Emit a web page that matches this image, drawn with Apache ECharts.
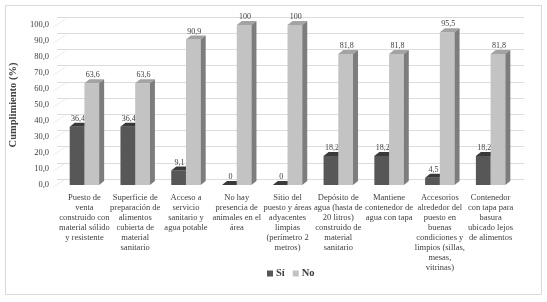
<!DOCTYPE html>
<html>
<head>
<meta charset="utf-8">
<script src="https://cdn.jsdelivr.net/npm/echarts@6/dist/echarts.min.js"></script>
<style>
  html, body { margin: 0; padding: 0; background: #fff; }
  #chart { width: 547px; height: 302px; }
</style>
</head>
<body>
<div id="chart"></div>
<script>
var categories = [
    'Puesto de\nventa\nconstruido con\nmaterial sólido\ny resistente',
    'Superficie de\npreparación de\nalimentos\ncubierta de\nmaterial\nsanitario',
    'Acceso a\nservicio\nsanitario y\nagua potable',
    'No hay\npresencia de\nanimales en el\nárea',
    'Sitio del\npuesto y áreas\nadyacentes\nlimpias\n(perímetro 2\nmetros)',
    'Depósito de\nagua (hasta de\n20 litros)\nconstruido de\nmaterial\nsanitario',
    'Mantiene\ncontenedor de\nagua con tapa',
    'Accesorios\nalrededor del\npuesto en\nbuenas\ncondiciones y\nlimpios (sillas,\nmesas,\nvitrinas)',
    'Contenedor\ncon tapa para\nbasura\nubicado lejos\nde alimentos'
];
var si_values = [36.4, 36.4, 9.1, 0, 0, 18.2, 18.2, 4.5, 18.2];
var no_values = [63.6, 63.6, 90.9, 100, 100, 81.8, 81.8, 95.5, 81.8];
var y_ticks = [0, 10, 20, 30, 40, 50, 60, 70, 80, 90, 100];
var series_names = ['Sí', 'No'];

var FONT = 'Liberation Serif';

function fmt(v) {
    return Number.isInteger(v) ? String(v) : v.toFixed(1).replace('.', ',');
}

// colours: front, top, side
var shades = {
    'Sí': ['#575757', '#3a3a3a', '#2e2e2e'],
    'No': ['#c3c3c3', '#a3a3a3', '#7d7d7d']
};

function make_render(name, offsetSide) {
    var c = shades[name];
    return function (params, api) {
        var idx = api.value(0);
        var val = api.value(1);
        var top = api.coord([idx, val]);
        var base = api.coord([idx, 0]);
        var band = api.size([1, 0])[0];
        var w = band * 0.29;
        var x0 = top[0] + (offsetSide < 0 ? -w : 0);
        var x1 = x0 + w;
        var dx = 5, dy = 4;
        return {
            type: 'group',
            children: [
                {
                    type: 'rect',
                    shape: { x: x0, y: top[1], width: w, height: base[1] - top[1] },
                    style: { fill: c[0] }
                },
                {
                    type: 'polygon',
                    shape: { points: [[x0, top[1]], [x0 + dx, top[1] - dy], [x1 + dx, top[1] - dy], [x1, top[1]]] },
                    style: { fill: c[1] }
                },
                {
                    type: 'polygon',
                    shape: { points: [[x1, top[1]], [x1 + dx, top[1] - dy], [x1 + dx, base[1] - dy], [x1, base[1]]] },
                    style: { fill: c[2] }
                },
                {
                    type: 'text',
                    style: {
                        x: x0 + w / 2 + 1, y: top[1] - dy,
                        text: fmt(val),
                        fill: '#404040',
                        fontFamily: FONT,
                        fontSize: 8,
                        align: 'center', verticalAlign: 'bottom'
                    }
                }
            ]
        };
    };
}

// faint side-wall lines joining the tick labels to the back wall
function render_wall(params, api) {
    var p = api.coord([0, api.value(0)]);
    var left = p[0] - api.size([1, 0])[0] / 2;
    return {
        type: 'line',
        shape: { x1: left - 6, y1: p[1] + 2, x2: left + 7, y2: p[1] - 6 },
        style: { stroke: '#dedede', lineWidth: 1, lineDash: [1, 1] }
    };
}

var chart = echarts.init(document.getElementById('chart'));

chart.setOption({
    animation: false,
    backgroundColor: '#fff',
    textStyle: { fontFamily: FONT },
    graphic: [
        {
            type: 'rect',
            shape: { x: 5.5, y: 5.5, width: 536, height: 289 },
            style: { fill: 'none', stroke: '#d9d9d9', lineWidth: 1 },
            z: -10
        }
    ],
    legend: {
        data: series_names,
        left: 262,
        top: 263,
        itemWidth: 6,
        itemHeight: 6,
        itemGap: 8,
        icon: 'rect',
        textStyle: { fontFamily: FONT, fontSize: 10.5, fontWeight: 'bold', color: '#404040', padding: [0, 0, 0, -2] }
    },
    grid: [
        { left: 50, right: 31, top: 25, bottom: 117 },
        { left: 57, right: 23, top: 17, bottom: 123 }
    ],
    xAxis: [
        {
            type: 'category',
            gridIndex: 0,
            data: categories,
            axisLine: { show: false },
            axisTick: { show: false },
            axisLabel: {
                interval: 0,
                margin: 8,
                fontFamily: FONT,
                fontSize: 8.5,
                lineHeight: 10,
                color: '#404040',
                verticalAlign: 'top'
            }
        },
        {
            type: 'category',
            gridIndex: 1,
            data: categories,
            show: false
        }
    ],
    yAxis: [
        {
            type: 'value',
            gridIndex: 0,
            min: 0,
            max: 100,
            interval: 10,
            name: 'Cumplimiento (%)',
            nameLocation: 'middle',
            nameGap: 28,
            nameTextStyle: { fontFamily: FONT, fontSize: 10.5, fontWeight: 'bold', color: '#404040' },
            axisLine: { show: false },
            axisTick: { show: false },
            splitLine: { show: false },
            axisLabel: {
                margin: 10,
                fontFamily: FONT,
                fontSize: 8.5,
                color: '#404040',
                formatter: function (v) { return v.toFixed(1).replace('.', ','); }
            }
        },
        {
            type: 'value',
            gridIndex: 1,
            min: 0,
            max: 100,
            interval: 10,
            axisLine: { show: false },
            axisTick: { show: false },
            axisLabel: { show: false },
            splitLine: { lineStyle: { color: '#dcdcdc', width: 1 } }
        }
    ],
    series: [
        {
            type: 'custom',
            xAxisIndex: 0,
            yAxisIndex: 0,
            renderItem: render_wall,
            encode: { y: 0 },
            data: y_ticks,
            silent: true,
            z: 1
        },
        {
            name: 'Sí',
            type: 'custom',
            xAxisIndex: 0,
            yAxisIndex: 0,
            itemStyle: { color: shades['Sí'][0] },
            renderItem: make_render('Sí', -1),
            encode: { x: 0, y: 1 },
            data: si_values.map(function (v, i) { return [i, v]; }),
            z: 3
        },
        {
            name: 'No',
            type: 'custom',
            xAxisIndex: 0,
            yAxisIndex: 0,
            itemStyle: { color: shades['No'][0] },
            renderItem: make_render('No', 1),
            encode: { x: 0, y: 1 },
            data: no_values.map(function (v, i) { return [i, v]; }),
            z: 3
        }
    ]
});
</script>
</body>
</html>
